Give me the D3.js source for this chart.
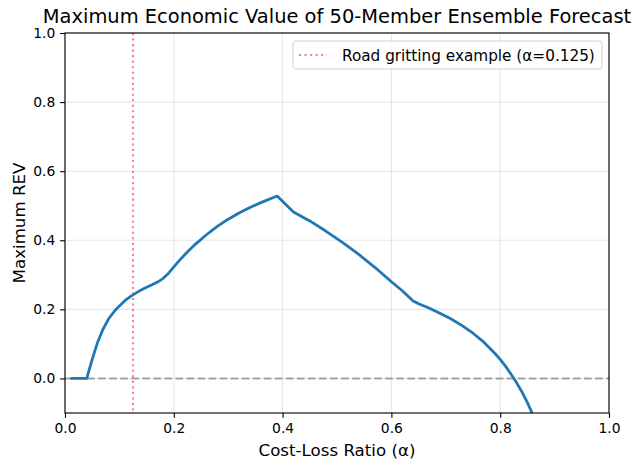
<!DOCTYPE html>
<html>
<head>
<meta charset="utf-8">
<script src="https://cdn.jsdelivr.net/npm/d3@7"></script>
<style>
  body { margin: 0; background: #fff; }
  text { font-family: "DejaVu Sans", sans-serif; }
</style>
</head>
<body>
<svg width="642" height="470"></svg>
<script>
// cost-loss ratio and max REV
const alphas = [0.01, 0.02, 0.03, 0.04, 0.05, 0.06, 0.07, 0.08, 0.09, 0.10, 0.11, 0.12, 0.13, 0.14, 0.15, 0.16,
  0.17, 0.18, 0.19, 0.20, 0.21, 0.22, 0.23, 0.24, 0.26, 0.28, 0.30, 0.32, 0.34, 0.36, 0.39, 0.42, 0.45, 0.48,
  0.51, 0.54, 0.57, 0.60, 0.62, 0.64, 0.65, 0.67, 0.69, 0.71, 0.73, 0.75, 0.77, 0.79, 0.80, 0.81, 0.82, 0.83,
  0.84, 0.85, 0.86, 0.87]
const maxRev = [0, 0, 0, 0, 0.055, 0.105, 0.143, 0.172, 0.193, 0.210, 0.225, 0.237, 0.247, 0.256, 0.264, 0.271,
  0.279, 0.289, 0.304, 0.323, 0.341, 0.358, 0.374, 0.389, 0.416, 0.440, 0.461, 0.479, 0.495, 0.509, 0.528, 0.482, 0.456, 0.426,
  0.394, 0.359, 0.321, 0.280, 0.254, 0.224, 0.216, 0.203, 0.188, 0.172, 0.153, 0.131, 0.105, 0.073, 0.055, 0.035, 0.012, -0.012,
  -0.039, -0.070, -0.105, -0.145]
const xTicks = [0, 0.2, 0.4, 0.6, 0.8, 1.0]
const yTicks = [0, 0.2, 0.4, 0.6, 0.8, 1.0]
const exampleAlpha = 0.125

const pt = 100 / 72
const svg = d3.select("svg")
const margin = {left: 65, right: 33, top: 33, bottom: 57}
const width = 642 - margin.left - margin.right,
  height = 470 - margin.top - margin.bottom

const x = d3.scaleLinear().domain([0, 1]).range([0, width])
const y = d3.scaleLinear().domain([-0.1, 1.0]).range([height, 0])

const g = svg.append("g").attr("transform", "translate(" + margin.left + "," + margin.top + ")")

// grid
g.append("g").selectAll("line").data(xTicks).enter().append("line")
  .attr("x1", d => x(d)).attr("x2", d => x(d)).attr("y1", 0).attr("y2", height)
  .attr("stroke", "#b0b0b0").attr("stroke-opacity", 0.3).attr("stroke-width", 0.8 * pt)
g.append("g").selectAll("line").data(yTicks).enter().append("line")
  .attr("y1", d => y(d)).attr("y2", d => y(d)).attr("x1", 0).attr("x2", width)
  .attr("stroke", "#b0b0b0").attr("stroke-opacity", 0.3).attr("stroke-width", 0.8 * pt)

g.append("defs").append("clipPath").attr("id", "clip")
  .append("rect").attr("width", width).attr("height", height)

const plot = g.append("g").attr("clip-path", "url(#clip)")

// zero line
plot.append("line")
  .attr("x1", 0).attr("x2", width).attr("y1", y(0)).attr("y2", y(0))
  .attr("stroke", "#808080").attr("stroke-opacity", 0.7).attr("stroke-width", 1.5 * pt)
  .attr("stroke-dasharray", (3.7 * 1.5 * pt) + "," + (1.6 * 1.5 * pt))

// road gritting example
const dotted = (1 * 1.5 * pt) + "," + (1.65 * 1.5 * pt)
plot.append("line")
  .attr("x1", x(exampleAlpha)).attr("x2", x(exampleAlpha)).attr("y1", 0).attr("y2", height)
  .attr("stroke", "red").attr("stroke-opacity", 0.5).attr("stroke-width", 1.5 * pt)
  .attr("stroke-dasharray", dotted)

const line = d3.line().x((d, i) => x(alphas[i])).y(d => y(d))
plot.append("path").datum(maxRev)
  .attr("d", line)
  .attr("fill", "none")
  .attr("stroke", "#1f77b4")
  .attr("stroke-width", 2 * pt)
  .attr("stroke-linejoin", "round")

// axes
const xAxis = g.append("g").attr("transform", "translate(0," + height + ")")
  .call(d3.axisBottom(x).tickValues(xTicks).tickFormat(d3.format(".1f")).tickSizeOuter(0).tickSize(3.5 * pt).tickPadding(3.5 * pt))
const yAxis = g.append("g")
  .call(d3.axisLeft(y).tickValues(yTicks).tickFormat(d3.format(".1f")).tickSizeOuter(0).tickSize(3.5 * pt).tickPadding(3.5 * pt))
;[xAxis, yAxis].forEach(a => {
  a.selectAll("text").attr("font-size", 10 * pt).attr("fill", "#000").attr("font-family", "DejaVu Sans")
  a.selectAll("line").attr("stroke", "#000").attr("stroke-width", 0.8 * pt)
  a.select(".domain").remove()
})

// frame
g.append("rect").attr("width", width).attr("height", height)
  .attr("fill", "none").attr("stroke", "#000").attr("stroke-width", 0.8 * pt)

// legend
const legend = g.append("g").attr("transform", "translate(" + (width - 316) + ",8)")
legend.append("rect").attr("width", 309).attr("height", 28).attr("rx", 3)
  .attr("fill", "#fff").attr("fill-opacity", 0.8).attr("stroke", "#d0d0d0").attr("stroke-width", 1)
legend.append("line").attr("x1", 6).attr("x2", 34).attr("y1", 14).attr("y2", 14)
  .attr("stroke", "red").attr("stroke-opacity", 0.5).attr("stroke-width", 1.5 * pt)
  .attr("stroke-dasharray", dotted)
legend.append("text").attr("x", 49).attr("y", 19.5).attr("font-size", 11 * pt)
  .text("Road gritting example (α=0.125)")

// labels
svg.append("text").attr("x", margin.left + width / 2).attr("y", 23)
  .attr("text-anchor", "middle").attr("font-size", 14 * pt)
  .text("Maximum Economic Value of 50-Member Ensemble Forecast")
svg.append("text").attr("x", margin.left + width / 2).attr("y", 456)
  .attr("text-anchor", "middle").attr("font-size", 12 * pt)
  .text("Cost-Loss Ratio (α)")
svg.append("text").attr("transform", "translate(24.5," + (margin.top + height / 2) + ") rotate(-90)")
  .attr("text-anchor", "middle").attr("font-size", 12 * pt)
  .text("Maximum REV")
</script>
</body>
</html>
